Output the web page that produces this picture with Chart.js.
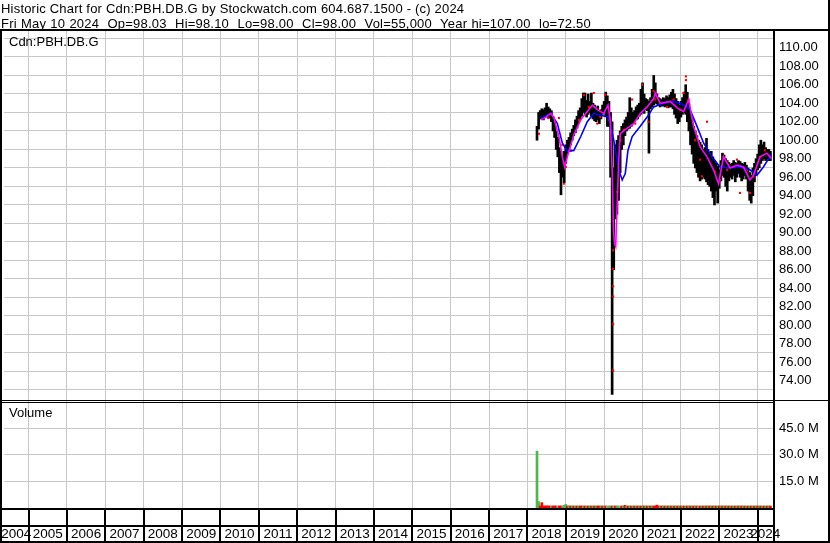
<!DOCTYPE html>
<html>
<head>
<meta charset="utf-8">
<title>Cdn:PBH.DB.G</title>
<script src="https://cdn.jsdelivr.net/npm/chart.js@4.4.1/dist/chart.umd.min.js"></script>
<style>
  html, body { margin: 0; padding: 0; background: #fff; }
  #wrap { position: relative; width: 830px; height: 543px; overflow: hidden; }
  #chart { position: absolute; left: 0; top: 0; }
  .hdr { position: absolute; left: 1px; font: 13px "Liberation Sans", Arial, sans-serif; line-height: 15px; white-space: pre; color: #000; letter-spacing: 0.2px; }
  .lbl { position: absolute; font: 13px "Liberation Sans", Arial, sans-serif; line-height: 15px; color: #000; }
</style>
</head>
<body>
<div id="wrap">
  <canvas id="chart" width="830" height="543"></canvas>
  <div class="hdr" style="top:1px">Historic Chart for Cdn:PBH.DB.G by Stockwatch.com 604.687.1500 - (c) 2024</div>
  <div class="hdr" style="top:16px;word-spacing:0.4px">Fri May 10 2024  Op=98.03  Hi=98.10  Lo=98.00  Cl=98.00  Vol=55,000  Year hi=107.00  lo=72.50</div>
  <div class="lbl" style="left:9px;top:34px">Cdn:PBH.DB.G</div>
  <div class="lbl" style="left:9px;top:405px">Volume</div>
</div>
<script>
// x range of the chart, in decimal years
const X_MIN = 2004.36;
const X_MAX = 2024.40;

const yearLines = [2005, 2006, 2007, 2008, 2009, 2010, 2011, 2012, 2013, 2014,
  2015, 2016, 2017, 2018, 2019, 2020, 2021, 2022, 2023, 2024];
const yearLabels = [2004, 2005, 2006, 2007, 2008, 2009, 2010, 2011, 2012, 2013, 2014,
  2015, 2016, 2017, 2018, 2019, 2020, 2021, 2022, 2023, 2024];

const priceLabels = [74, 76, 78, 80, 82, 84, 86, 88, 90, 92, 94, 96, 98, 100, 102, 104, 106, 108, 110];
const priceGrid = [73, 75, 77, 79, 81, 83, 85, 87, 89, 91, 93, 95, 97, 99, 101, 103, 105, 107, 109, 111];
const volTicks = [15, 30, 45]; // millions

// half-month bars
const barT = [
  2018.250, 2018.292, 2018.333, 2018.375, 2018.417, 2018.458, 2018.500, 2018.542, 2018.583, 2018.625, 2018.667, 2018.708,
  2018.750, 2018.792, 2018.833, 2018.875, 2018.917, 2018.958,
  2019.000, 2019.042, 2019.083, 2019.125, 2019.167, 2019.208, 2019.250, 2019.292, 2019.333, 2019.375, 2019.417, 2019.458,
  2019.500, 2019.542, 2019.583, 2019.625, 2019.667, 2019.708, 2019.750, 2019.792, 2019.833, 2019.875, 2019.917, 2019.958,
  2020.000, 2020.042, 2020.083, 2020.125, 2020.167, 2020.208, 2020.250, 2020.292, 2020.333, 2020.375, 2020.417, 2020.458,
  2020.500, 2020.542, 2020.583, 2020.625, 2020.667, 2020.708, 2020.750, 2020.792, 2020.833, 2020.875, 2020.917, 2020.958,
  2021.000, 2021.042, 2021.083, 2021.125, 2021.167, 2021.208, 2021.250, 2021.292, 2021.333, 2021.375, 2021.417, 2021.458,
  2021.500, 2021.542, 2021.583, 2021.625, 2021.667, 2021.708, 2021.750, 2021.792, 2021.833, 2021.875, 2021.917, 2021.958,
  2022.000, 2022.042, 2022.083, 2022.125, 2022.167, 2022.208, 2022.250, 2022.292, 2022.333, 2022.375, 2022.417, 2022.458,
  2022.500, 2022.542, 2022.583, 2022.625, 2022.667, 2022.708, 2022.750, 2022.792, 2022.833, 2022.875, 2022.917, 2022.958,
  2023.000, 2023.042, 2023.083, 2023.125, 2023.167, 2023.208, 2023.250, 2023.292, 2023.333, 2023.375, 2023.417, 2023.458,
  2023.500, 2023.542, 2023.583, 2023.625, 2023.667, 2023.708, 2023.750, 2023.792, 2023.833, 2023.875, 2023.917, 2023.958,
  2024.000, 2024.042, 2024.083, 2024.125, 2024.167, 2024.208, 2024.250, 2024.292, 2024.333
];
const barHi = [
  101.5, 103.0, 103.2, 103.4, 103.3, 103.5, 104.0, 103.6, 103.4, 103.2,
  102.6, 102.0, 101.0, 100.3, 99.2, 98.8, 98.0, 98.8, 99.5, 100.0,
  100.3, 100.8, 101.2, 101.6, 102.2, 102.6, 103.2, 103.5, 104.5, 105.1,
  105.1, 104.3, 105.0, 104.2, 105.1, 104.0, 103.8, 103.5, 103.7, 103.2,
  103.3, 103.8, 104.2, 105.2, 104.8, 104.2, 103.0, 102.0, 97.0, 99.5,
  100.0, 100.5, 101.0, 101.5, 101.8, 102.2, 102.5, 103.0, 104.6, 103.5,
  103.0, 103.2, 103.6, 103.8, 104.0, 105.5, 106.2, 105.0, 104.5, 104.4,
  104.2, 104.6, 105.5, 107.0, 106.2, 105.0, 104.6, 104.5, 104.4, 104.6,
  104.5, 104.8, 104.6, 104.9, 105.2, 105.5, 105.0, 104.5, 104.2, 103.8,
  104.2, 104.6, 105.2, 106.0, 105.2, 104.0, 103.0, 102.2, 101.5, 101.0,
  100.5, 100.0, 99.8, 99.5, 99.0, 99.2, 100.2, 99.0, 98.5, 98.8,
  98.2, 97.8, 97.5, 97.2, 96.8, 97.8, 98.6, 98.4, 98.0, 97.8,
  97.6, 97.4, 97.5, 97.8, 97.6, 97.5, 97.8, 97.7, 97.5, 97.4,
  97.6, 97.3, 97.0, 96.5, 96.2, 97.0, 97.5, 98.0, 98.5, 99.5,
  100.0, 99.5, 99.8, 99.2, 99.0, 99.0, 98.8
];
const barLo = [
  100.0, 101.2, 102.3, 102.4, 102.2, 102.5, 102.6, 102.4, 102.4, 102.0,
  101.0, 100.3, 99.0, 98.2, 96.5, 94.1, 96.0, 95.4, 97.5, 98.5,
  99.0, 99.5, 100.0, 100.5, 100.8, 101.3, 101.8, 102.2, 102.6, 103.0,
  102.8, 102.5, 102.8, 103.0, 102.6, 102.3, 102.1, 102.0, 102.2, 101.8,
  102.3, 102.8, 103.0, 102.6, 101.5, 101.5, 96.0, 72.5, 86.0, 91.5,
  92.0, 93.5, 96.5, 99.0, 99.5, 100.5, 101.0, 101.2, 101.3, 101.5,
  101.8, 102.0, 102.2, 102.3, 102.6, 102.8, 103.0, 102.9, 103.3, 103.2,
  98.6, 103.4, 103.6, 103.8, 104.0, 103.9, 103.8, 103.6, 103.7, 103.7,
  103.6, 103.7, 103.5, 103.6, 103.6, 103.4, 102.8, 102.4, 101.8, 102.0,
  102.5, 102.8, 103.0, 102.8, 102.0, 101.0, 99.5, 98.5, 97.5, 97.0,
  96.5, 96.0, 95.6, 95.8, 96.0, 95.8, 95.5, 95.2, 95.0, 94.5,
  93.8, 93.0, 94.5, 93.2, 94.8, 95.6, 96.2, 96.0, 95.0, 94.5,
  95.6, 96.0, 95.8, 96.2, 95.5, 96.0, 96.4, 96.0, 95.6, 95.8,
  96.2, 95.8, 94.5, 93.5, 93.2, 94.0, 95.5, 96.2, 96.8, 97.0,
  97.5, 97.8, 98.0, 97.8, 98.0, 97.8, 97.8
];

// volume in millions per half month; G up, R down, X unchanged
const volM = [
  32.0, 3.6, 1.1, 3.0, 1.0, 0.8, 1.2, 1.0, 0.6, 0.5,
  0.6, 0.5, 0.6, 1.0, 0.5, 0.5, 0.5, 1.5, 2.0, 0.8,
  1.2, 0.5, 0.5, 0.5, 0.6, 0.5, 0.6, 0.5, 0.5, 0.5,
  0.5, 0.5, 0.5, 0.5, 0.6, 0.5, 0.5, 0.5, 0.5, 0.5,
  0.5, 0.5, 0.5, 0.5, 0.8, 0.5, 0.8, 0.6, 0.8, 0.6,
  0.8, 0.5, 1.0, 0.5, 1.0, 1.5, 0.5, 0.5, 0.5, 0.5,
  0.5, 0.5, 0.5, 0.5, 0.5, 0.5, 0.5, 0.5, 0.5, 0.5,
  0.5, 0.5, 0.5, 0.6, 1.0, 1.6, 0.8, 0.5, 0.5, 0.5,
  0.5, 0.5, 0.5, 0.5, 0.5, 0.5, 0.5, 0.5, 0.5, 0.5,
  0.5, 0.5, 0.5, 0.5, 0.5, 0.5, 0.5, 0.5, 0.5, 0.5,
  0.5, 0.8, 0.5, 0.5, 0.5, 0.5, 0.5, 0.5, 0.5, 0.5,
  0.5, 0.5, 0.5, 0.5, 0.5, 0.5, 0.5, 0.5, 0.5, 0.5,
  0.5, 0.5, 0.5, 0.5, 0.5, 0.5, 0.5, 0.5, 0.5, 0.5,
  0.5, 0.5, 0.5, 0.5, 0.5, 0.5, 0.5, 0.5, 0.5, 0.5,
  0.5, 0.5, 0.5, 0.5, 0.5, 0.5, 0.5
];
const volDir =
  "GGRRRRRRRG" + "RRRXRRGGGR" + "GRGRGRGRRG" + "RGRGRGRGRR" + "GRGRXGGRXR" +
  "GGXRGRGRGR" + "GRGRGRGRGR" + "GRGRRRRGRG" + "RGRGRGRGRG" + "RGRGRGRGRG" +
  "RXRGRGRGRG" + "RGRGRGRGRG" + "RGRGRGRGRG" + "RGRGRGRGRG" + "RGRGRGR";

// short moving average (magenta)
const maFastT = [2018.35, 2018.48, 2018.61, 2018.69, 2018.82, 2018.91, 2018.97, 2019.04, 2019.21, 2019.39,
  2019.56, 2019.69, 2019.82, 2019.99, 2020.10, 2020.16, 2020.21, 2020.24, 2020.27, 2020.30,
  2020.33, 2020.38, 2020.42, 2020.60, 2020.77, 2020.94, 2021.12, 2021.29, 2021.33, 2021.46,
  2021.72, 2021.90, 2022.07, 2022.20, 2022.33, 2022.50, 2022.68, 2022.85, 2022.98, 2023.11,
  2023.28, 2023.46, 2023.63, 2023.80, 2023.89, 2024.06, 2024.24, 2024.36];
const maFastV = [102.2, 102.5, 102.9, 102.4, 100.4, 98.2, 97.1, 98.2, 100.6, 102.2,
  103.1, 103.8, 103.3, 102.9, 103.8, 102.2, 96.5, 90.5, 88.8, 88.5,
  92.0, 97.9, 100.7, 101.3, 101.8, 102.9, 103.6, 104.5, 105.1, 104.0,
  104.2, 103.5, 103.1, 104.4, 101.5, 99.3, 98.2, 96.8, 95.3, 98.2,
  97.0, 97.3, 97.1, 95.7, 96.2, 98.2, 98.6, 98.0];

// longer moving average (blue)
const maSlowT = [2018.35, 2018.61, 2018.78, 2018.91, 2019.04, 2019.21, 2019.39, 2019.56, 2019.73, 2019.90,
  2020.12, 2020.25, 2020.38, 2020.47, 2020.55, 2020.62, 2020.73, 2020.94, 2021.12, 2021.29,
  2021.55, 2021.81, 2022.07, 2022.24, 2022.42, 2022.59, 2022.81, 2023.02, 2023.28, 2023.54,
  2023.80, 2023.98, 2024.15, 2024.36];
const maSlowV = [102.4, 102.9, 101.8, 99.7, 98.8, 98.9, 100.4, 102.0, 102.9, 102.7,
  102.5, 100.0, 96.8, 95.7, 96.4, 98.9, 100.4, 101.5, 102.5, 103.6,
  104.0, 104.2, 103.8, 103.3, 101.5, 99.7, 98.2, 97.1, 97.0, 97.1,
  96.8, 96.2, 97.1, 98.5];

// red close marks
const dotT = [2018.30, 2018.54, 2018.82, 2018.91, 2018.95, 2018.95, 2019.00, 2019.13, 2019.34, 2019.47,
  2019.60, 2019.73, 2019.82, 2019.90, 2020.03, 2020.10, 2020.12, 2020.235, 2020.235, 2020.235,
  2020.235, 2020.235, 2020.235, 2020.34, 2020.42, 2020.51, 2020.73, 2020.81, 2020.99, 2021.16,
  2021.29, 2021.33, 2021.64, 2021.81, 2021.98, 2022.07, 2022.13, 2022.13, 2022.20, 2022.29,
  2022.37, 2022.50, 2022.55, 2022.68, 2022.89, 2023.02, 2023.11, 2023.20, 2023.46, 2023.54,
  2023.72, 2023.80, 2023.89, 2024.06, 2024.19, 2024.32];
const dotV = [100.7, 102.4, 102.4, 99.5, 97.5, 95.3, 97.1, 98.9, 102.2, 104.9,
  103.6, 105.1, 101.8, 102.5, 104.9, 103.6, 102.2, 88.1, 86.1, 84.2,
  83.1, 80.1, 75.1, 94.4, 100.0, 101.1, 104.4, 101.8, 106.0, 102.0,
  105.3, 104.4, 103.6, 104.4, 103.3, 105.1, 106.9, 106.5, 104.4, 102.4,
  100.0, 97.9, 96.1, 102.0, 96.6, 95.7, 98.2, 96.8, 97.9, 94.3,
  96.8, 94.3, 96.1, 98.2, 98.9, 98.2];

const GRID = "#c8c8c8";
const FONT = { family: '"Liberation Sans", Arial, sans-serif', size: 13 };
const volColors = { G: "#4cb84c", R: "#ff0000", X: "#a0a0a0" };

function pts(xs, ys) {
  return xs.map((x, i) => ({ x: x, y: ys[i] }));
}

const framePlugin = {
  id: "frame",
  afterDraw(chart) {
    const { ctx, chartArea: a, scales } = chart;
    const W = chart.width;
    const H = chart.height;
    const xs = scales.x;
    const yv = scales.yv;

    ctx.save();
    ctx.fillStyle = "#000";
    ctx.fillRect(0, a.top - 2, W, 2);
    ctx.fillRect(0, a.top - 2, 2, H - a.top + 2);
    ctx.fillRect(W - 2, 0, 2, H);
    ctx.fillRect(a.right, a.top - 2, 2, H - a.top + 2);
    ctx.fillRect(0, yv.top, W, 1);
    ctx.fillRect(0, yv.top + 2, a.right, 1);
    ctx.fillRect(0, a.bottom, a.right + 2, 2);
    ctx.fillRect(0, a.bottom + 17, a.right + 2, 2);
    ctx.fillRect(0, H - 2, W, 2);

    yearLines.forEach((yr) => {
      const px = Math.round(xs.getPixelForValue(yr));
      ctx.fillRect(px - 1, a.bottom, 2, H - a.bottom);
    });

    ctx.font = '13.5px "Liberation Sans", Arial, sans-serif';
    ctx.textAlign = "center";
    ctx.textBaseline = "middle";
    yearLabels.forEach((yr) => {
      const l = Math.max(a.left, xs.getPixelForValue(yr));
      const r = Math.min(a.right, xs.getPixelForValue(yr + 1));
      ctx.fillText(String(yr), (l + r) / 2, H - 9);
    });
    ctx.restore();
  },
};

new Chart(document.getElementById("chart"), {
  type: "bar",
  data: {
    datasets: [
      {
        type: "line",
        label: "MA short",
        data: pts(maFastT, maFastV),
        yAxisID: "y",
        borderColor: "#ff00ff",
        borderWidth: 1.6,
        pointRadius: 0,
        tension: 0,
        order: 1,
      },
      {
        type: "line",
        label: "MA long",
        data: pts(maSlowT, maSlowV),
        yAxisID: "y",
        borderColor: "#0000ff",
        borderWidth: 1.6,
        pointRadius: 0,
        tension: 0,
        order: 2,
      },
      {
        type: "scatter",
        label: "Close",
        data: pts(dotT, dotV),
        yAxisID: "y",
        pointStyle: "rect",
        pointRadius: 1.5,
        borderWidth: 0,
        backgroundColor: "#ff0000",
        order: 3,
      },
      {
        type: "bar",
        label: "Range",
        data: barT.map((t, i) => ({ x: t, y: [barLo[i], barHi[i]] })),
        yAxisID: "y",
        backgroundColor: "#000",
        barThickness: 2,
        grouped: false,
        order: 4,
      },
      {
        type: "bar",
        label: "Volume",
        data: pts(barT, volM),
        yAxisID: "yv",
        backgroundColor: barT.map((t, i) => volColors[volDir[i]]),
        barThickness: 2,
        minBarLength: 2,
        grouped: false,
        order: 5,
      },
    ],
  },
  options: {
    responsive: false,
    animation: false,
    events: [],
    layout: { padding: { top: 31, left: 2, right: 0, bottom: 0 } },
    plugins: { legend: { display: false }, tooltip: { enabled: false } },
    scales: {
      x: {
        type: "linear",
        min: X_MIN,
        max: X_MAX,
        offset: false,
        grid: { color: GRID, offset: false, drawTicks: false },
        border: { display: false },
        ticks: { display: false },
        afterBuildTicks: (s) => { s.ticks = yearLines.map((v) => ({ value: v })); },
        afterFit: (s) => { s.height = 35; },
      },
      y: {
        type: "linear",
        position: "right",
        stack: "panels",
        stackWeight: 369,
        min: 71.91,
        max: 111.81,
        grid: {
          color: (c) => (c.tick && priceGrid.includes(c.tick.value) ? GRID : "rgba(0,0,0,0)"),
          drawTicks: false,
        },
        border: { display: false },
        ticks: {
          autoSkip: false,
          padding: 6,
          color: "#000",
          font: FONT,
          callback: (v) => (priceLabels.includes(v) ? v.toFixed(2) : ""),
        },
        afterBuildTicks: (s) => {
          s.ticks = priceGrid.concat(priceLabels).sort((a, b) => a - b).map((v) => ({ value: v }));
        },
        afterFit: (s) => { s.width = 57; },
      },
      yv: {
        type: "linear",
        position: "right",
        stack: "panels",
        stackWeight: 108,
        min: 0,
        max: 60.75,
        grid: { color: GRID, drawTicks: false },
        border: { display: false },
        ticks: {
          autoSkip: false,
          padding: 6,
          color: "#000",
          font: FONT,
          callback: (v) => v.toFixed(1) + " M",
        },
        afterBuildTicks: (s) => { s.ticks = volTicks.map((v) => ({ value: v })); },
        afterFit: (s) => { s.width = 57; },
      },
    },
  },
  plugins: [framePlugin],
});
</script>
</body>
</html>
